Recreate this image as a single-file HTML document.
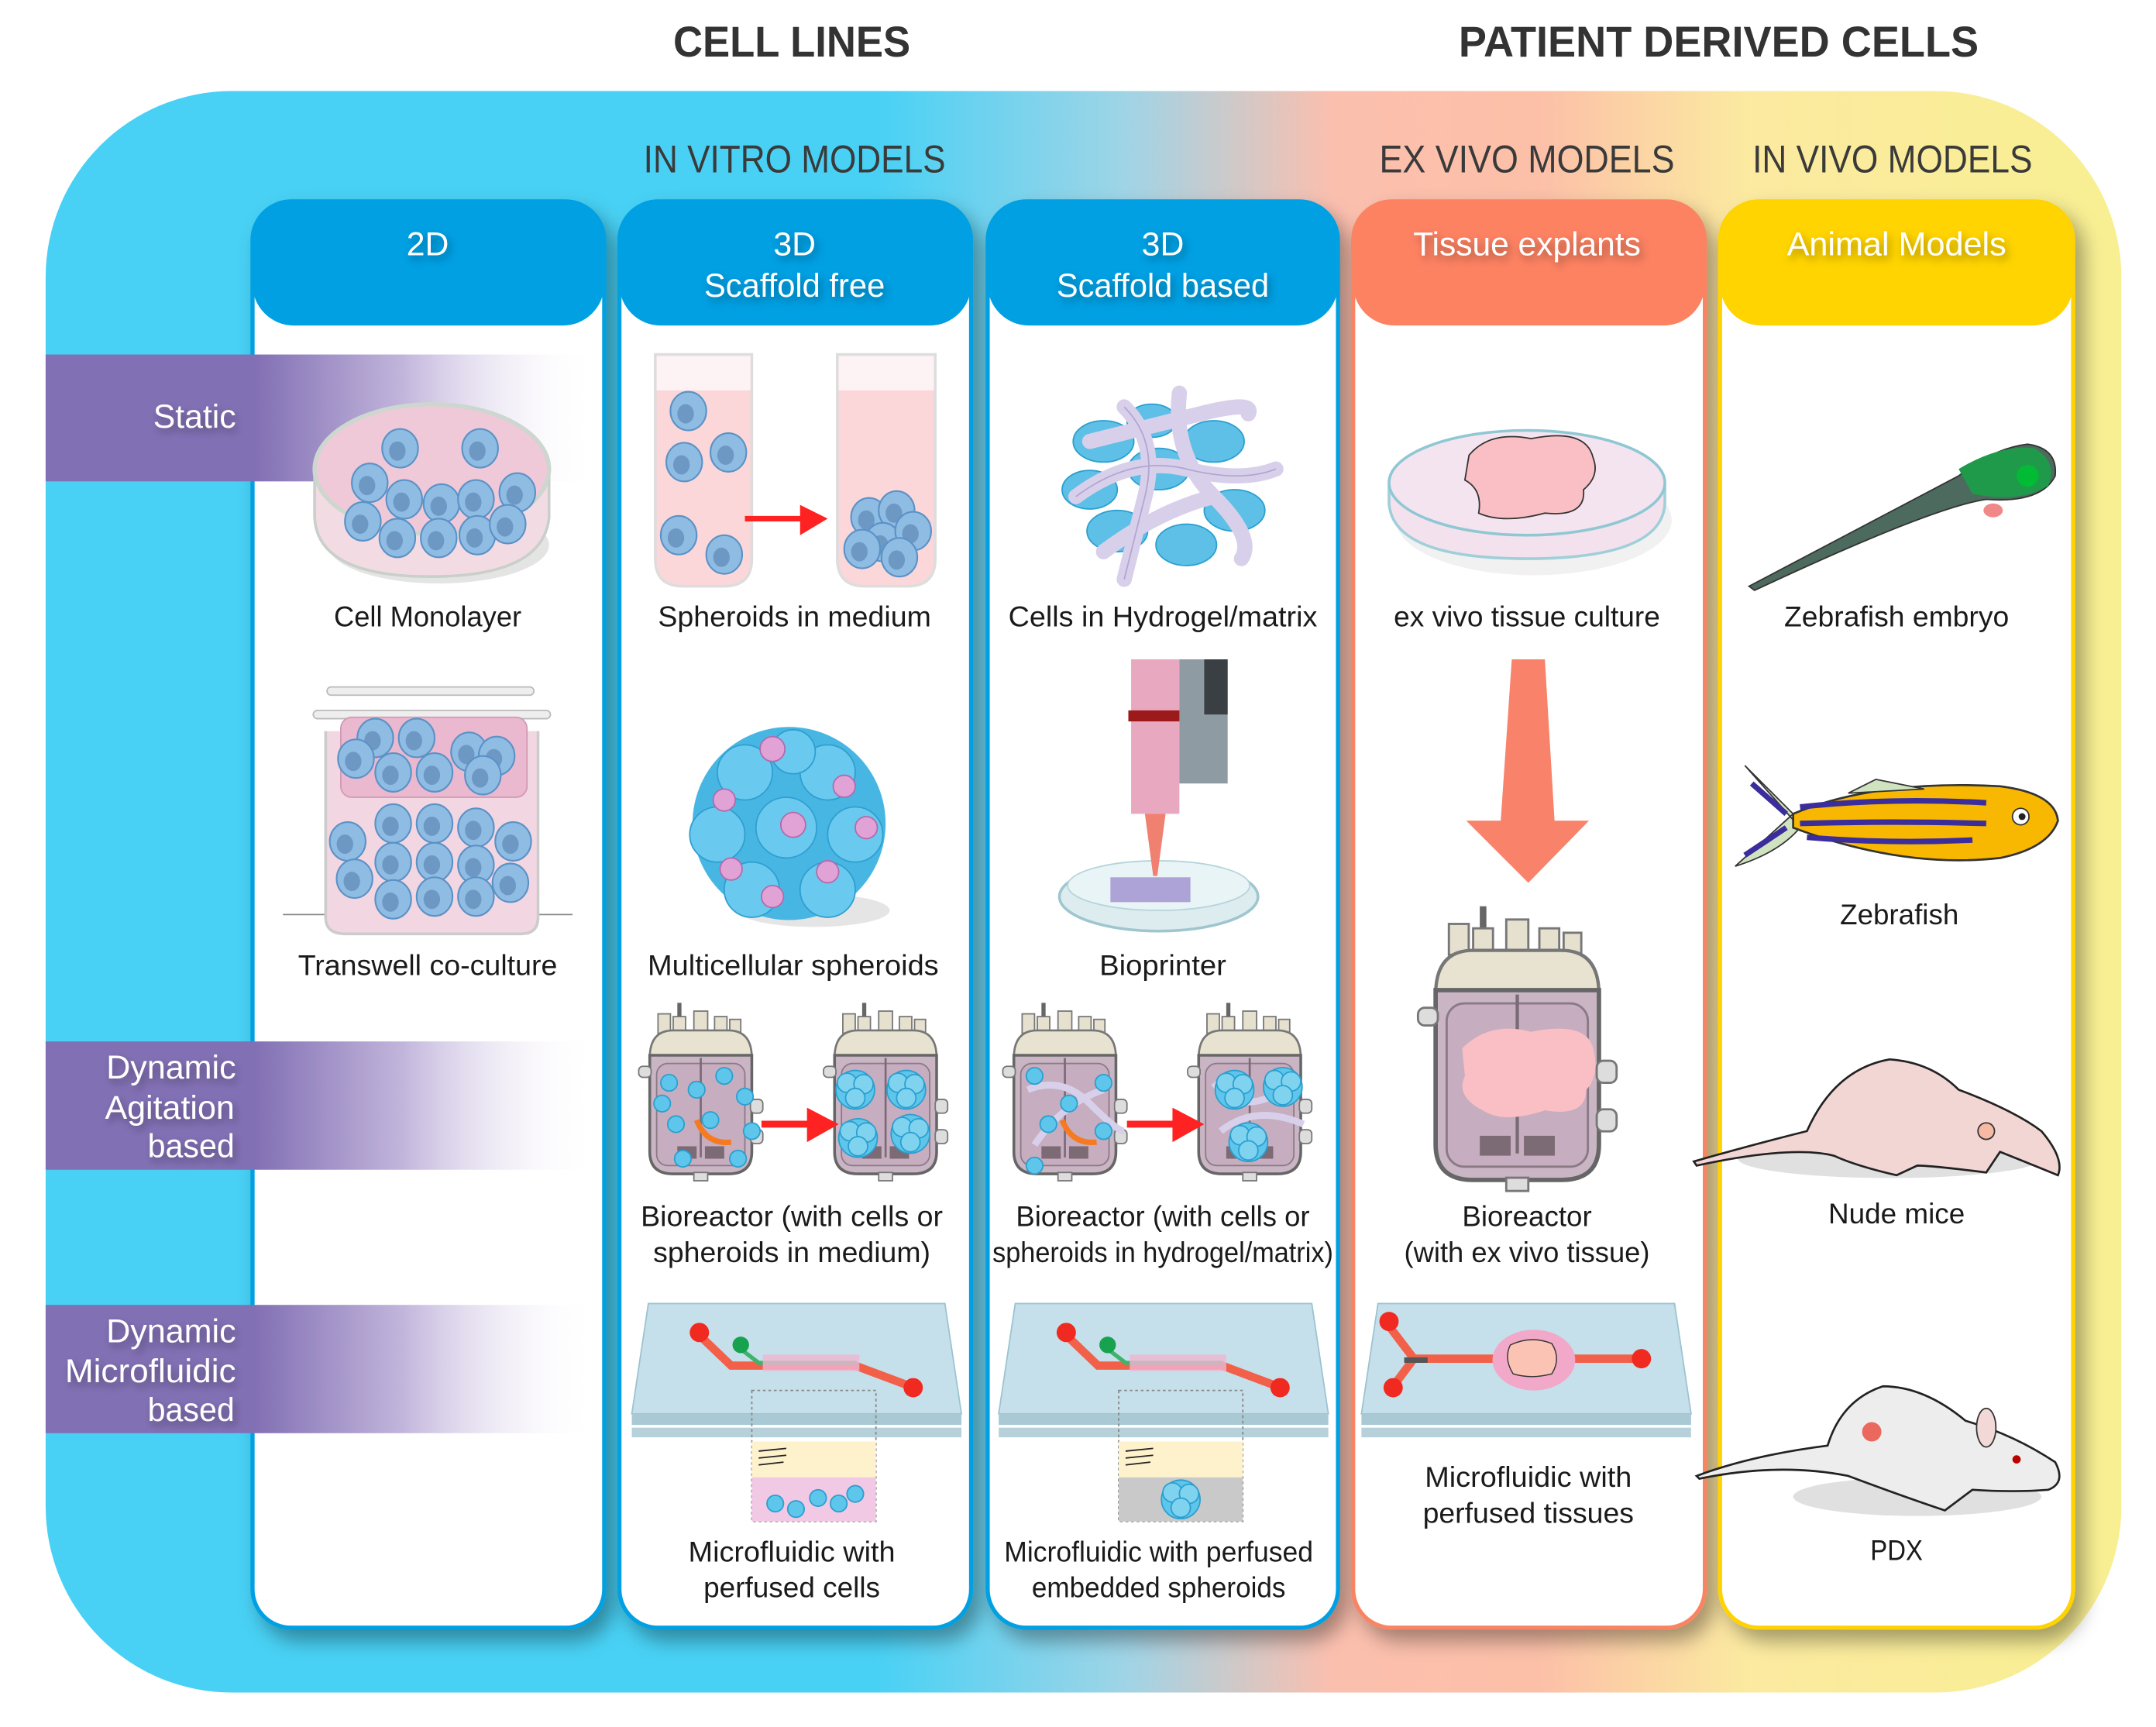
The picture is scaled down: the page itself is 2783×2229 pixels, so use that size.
<!DOCTYPE html>
<html><head><meta charset="utf-8"><style>
html,body{margin:0;padding:0;background:#fff}
svg{display:block}
text{font-family:"Liberation Sans",sans-serif}
.cap{font-size:21px;fill:#1a1a1a;text-anchor:middle}
.hd{font-size:24px;fill:#fff;text-anchor:middle}
.lb{font-size:24px;fill:#fff;text-anchor:end}
.sec{font-size:28px;fill:#3a3a3a;text-anchor:middle}
.top{font-size:31px;fill:#333;text-anchor:middle;font-weight:bold}
</style></head><body>
<svg width="2783" height="2229" viewBox="0 0 1563 1252" xmlns="http://www.w3.org/2000/svg">
<defs>
<linearGradient id="bg" x1="0" x2="1" y1="0" y2="0">
<stop offset="0" stop-color="#48d1f5"/><stop offset="0.4" stop-color="#48d1f5"/>
<stop offset="0.52" stop-color="#9fd4e6"/><stop offset="0.62" stop-color="#fbbfae"/>
<stop offset="0.72" stop-color="#fcc0a8"/><stop offset="0.82" stop-color="#fbeaa0"/>
<stop offset="1" stop-color="#f8ef92"/></linearGradient>
<linearGradient id="band" x1="0" x2="1" y1="0" y2="0">
<stop offset="0" stop-color="#8270b4"/><stop offset="0.38" stop-color="#8270b4"/>
<stop offset="0.65" stop-color="#c3b6dc"/><stop offset="1" stop-color="#ffffff" stop-opacity="0"/></linearGradient>
<filter id="sh" x="-10%" y="-10%" width="130%" height="130%"><feDropShadow dx="6" dy="8" stdDeviation="7" flood-color="#000" flood-opacity="0.35"/></filter>
<filter id="ts"><feDropShadow dx="2" dy="3" stdDeviation="3" flood-color="#000" flood-opacity="0.35"/></filter>
<g id="c"><ellipse cx="0" cy="0" rx="13" ry="14" fill="#8fbce3" stroke="#5b92c6" stroke-width="1.2"/><ellipse cx="-2" cy="2" rx="6" ry="7" fill="#6d98c4"/></g>
<g id="bc"><circle r="6" fill="#5ec6ea" stroke="#2a9fd0"/></g>
<g id="sph"><circle cx="0" cy="0" r="14" fill="#5ec6ea" stroke="#2a9fd0"/><circle cx="-6" cy="-5" r="7" fill="#7fd3ef" stroke="#2a9fd0"/><circle cx="6" cy="-4" r="7" fill="#7fd3ef" stroke="#2a9fd0"/><circle cx="0" cy="6" r="7" fill="#7fd3ef" stroke="#2a9fd0"/></g>
<g id="br">
<rect x="28" y="0" width="3" height="12" fill="#666"/>
<rect x="14" y="8" width="9" height="14" fill="#e6e0cf" stroke="#777"/><rect x="25" y="10" width="9" height="12" fill="#e6e0cf" stroke="#777"/><rect x="40" y="6" width="10" height="16" fill="#e6e0cf" stroke="#777"/><rect x="55" y="10" width="9" height="12" fill="#e6e0cf" stroke="#777"/><rect x="66" y="12" width="8" height="10" fill="#e6e0cf" stroke="#777"/>
<path d="M8 40 Q8 20 25 20 L65 20 Q82 20 82 40 Z" fill="#e8e2d0" stroke="#777" stroke-width="1.5"/>
<path d="M8 38 L82 38 L82 108 Q82 124 65 124 L25 124 Q8 124 8 108 Z" fill="#c9b5c3" stroke="#666" stroke-width="2"/>
<rect x="13" y="44" width="64" height="74" rx="8" fill="#c6adbf" stroke="#8a7a86"/>
<line x1="45" y1="40" x2="45" y2="112" stroke="#7a6a76" stroke-width="1.5"/>
<rect x="28" y="104" width="14" height="9" fill="#7c6a74"/><rect x="48" y="104" width="14" height="9" fill="#7c6a74"/>
<rect x="0" y="46" width="9" height="8" rx="3" fill="#ddd" stroke="#777"/>
<rect x="81" y="70" width="9" height="10" rx="3" fill="#ddd" stroke="#777"/><rect x="81" y="92" width="9" height="10" rx="3" fill="#ddd" stroke="#777"/>
<rect x="40" y="123" width="10" height="6" fill="#ddd" stroke="#777"/>
</g>
<g id="chip">
<path d="M12 0 L227 0 L239 80 L0 80 Z" fill="#c5e0ea" stroke="#9cc3d1"/>
<rect x="0" y="80" width="239" height="8" fill="#a9c9d4"/><rect x="0" y="90" width="239" height="7" fill="#b6d1da"/>
</g>
</defs>

<text class="top" x="574" y="41" textLength="172" lengthAdjust="spacingAndGlyphs">CELL LINES</text>
<text class="top" x="1246" y="41" textLength="377" lengthAdjust="spacingAndGlyphs">PATIENT DERIVED CELLS</text>

<rect x="33" y="66" width="1505" height="1161" rx="135" fill="url(#bg)"/>

<text class="sec" x="576" y="125" textLength="219" lengthAdjust="spacingAndGlyphs">IN VITRO MODELS</text>
<text class="sec" x="1107" y="125" textLength="214" lengthAdjust="spacingAndGlyphs">EX  VIVO MODELS</text>
<text class="sec" x="1372" y="125" textLength="203" lengthAdjust="spacingAndGlyphs">IN VIVO MODELS</text>

<!-- columns -->
<g filter="url(#sh)">
<rect x="183" y="146" width="255" height="1034" rx="28" fill="#fff" stroke="#00a0e3" stroke-width="3"/>
<rect x="449" y="146" width="255" height="1034" rx="28" fill="#fff" stroke="#00a0e3" stroke-width="3"/>
<rect x="716" y="146" width="254" height="1034" rx="28" fill="#fff" stroke="#00a0e3" stroke-width="3"/>
<rect x="981" y="146" width="255" height="1034" rx="28" fill="#fff" stroke="#f98463" stroke-width="3"/>
<rect x="1247" y="146" width="256" height="1034" rx="28" fill="#fff" stroke="#ffd200" stroke-width="3"/>
</g>
<rect x="183" y="145" width="255" height="91" rx="30" fill="#00a0e3"/>
<rect x="449" y="145" width="255" height="91" rx="30" fill="#00a0e3"/>
<rect x="716" y="145" width="254" height="91" rx="30" fill="#00a0e3"/>
<rect x="981" y="145" width="255" height="91" rx="30" fill="#fd8262"/>
<rect x="1247" y="145" width="256" height="91" rx="30" fill="#ffd400"/>
<g filter="url(#ts)">
<text class="hd" x="310" y="185">2D</text>
<text class="hd" x="576" y="185">3D</text>
<text class="hd" x="576" y="215" textLength="131" lengthAdjust="spacingAndGlyphs">Scaffold free</text>
<text class="hd" x="843" y="185">3D</text>
<text class="hd" x="843" y="215" textLength="154" lengthAdjust="spacingAndGlyphs">Scaffold based</text>
<text class="hd" x="1107" y="185" textLength="165" lengthAdjust="spacingAndGlyphs">Tissue explants</text>
<text class="hd" x="1375" y="185" textLength="159" lengthAdjust="spacingAndGlyphs">Animal Models</text>
</g>

<!-- bands -->
<rect x="33" y="257" width="400" height="92" fill="url(#band)"/>
<rect x="33" y="755" width="400" height="93" fill="url(#band)"/>
<rect x="33" y="946" width="400" height="93" fill="url(#band)"/>
<g filter="url(#ts)">
<text class="lb" x="171" y="310" textLength="60" lengthAdjust="spacingAndGlyphs">Static</text>
<text class="lb" x="171" y="782" textLength="94" lengthAdjust="spacingAndGlyphs">Dynamic</text>
<text class="lb" x="170" y="811" textLength="94" lengthAdjust="spacingAndGlyphs">Agitation</text>
<text class="lb" x="170" y="839" textLength="63" lengthAdjust="spacingAndGlyphs">based</text>
<text class="lb" x="171" y="973" textLength="94" lengthAdjust="spacingAndGlyphs">Dynamic</text>
<text class="lb" x="171" y="1002" textLength="124" lengthAdjust="spacingAndGlyphs">Microfluidic</text>
<text class="lb" x="170" y="1030" textLength="63" lengthAdjust="spacingAndGlyphs">based</text>
</g>

<!-- petri dish 2D -->
<ellipse cx="318" cy="395" rx="80" ry="28" fill="#bbb" opacity="0.4"/>
<path d="M228 340 L228 375 Q230 418 312 418 Q394 418 398 375 L398 340 Z" fill="#f3dbe3" stroke="#c9cfc9" stroke-width="2"/>
<ellipse cx="313" cy="340" rx="85" ry="47" fill="#efc9d8" stroke="#cdd6cf" stroke-width="3"/>
<use href="#c" x="268" y="350"/><use href="#c" x="290" y="325"/><use href="#c" x="348" y="325"/><use href="#c" x="375" y="357"/><use href="#c" x="293" y="362"/><use href="#c" x="320" y="365"/><use href="#c" x="345" y="362"/><use href="#c" x="263" y="378"/><use href="#c" x="288" y="390"/><use href="#c" x="318" y="390"/><use href="#c" x="346" y="388"/><use href="#c" x="368" y="380"/>
<text class="cap" x="310" y="454" textLength="136" lengthAdjust="spacingAndGlyphs">Cell Monolayer</text>

<!-- transwell -->
<line x1="205" y1="663" x2="415" y2="663" stroke="#888"/>
<path d="M236 530 L236 665 Q236 677 250 677 L378 677 Q390 677 390 665 L390 530" fill="#f2d6e2" stroke="#ccc" stroke-width="2"/>
<rect x="227" y="515" width="172" height="6" rx="3" fill="#eee" stroke="#bbb"/>
<rect x="237" y="498" width="150" height="6" rx="3" fill="#eee" stroke="#bbb"/>
<rect x="247" y="520" width="135" height="58" rx="8" fill="#eab8cf" stroke="#d19ab3"/>
<use href="#c" x="272" y="535"/><use href="#c" x="302" y="535"/><use href="#c" x="340" y="545"/><use href="#c" x="360" y="548"/><use href="#c" x="285" y="560"/><use href="#c" x="315" y="560"/><use href="#c" x="350" y="562"/><use href="#c" x="258" y="550"/>
<use href="#c" x="252" y="610"/><use href="#c" x="285" y="597"/><use href="#c" x="315" y="597"/><use href="#c" x="345" y="600"/><use href="#c" x="372" y="610"/><use href="#c" x="285" y="625"/><use href="#c" x="315" y="625"/><use href="#c" x="345" y="627"/><use href="#c" x="257" y="637"/><use href="#c" x="285" y="652"/><use href="#c" x="315" y="650"/><use href="#c" x="345" y="650"/><use href="#c" x="370" y="640"/>
<text class="cap" x="310" y="707" textLength="188" lengthAdjust="spacingAndGlyphs">Transwell co-culture</text>

<!-- tubes -->
<path d="M475 257 L475 405 Q475 425 495 425 L525 425 Q545 425 545 405 L545 257 Z" fill="#fbd7d9" stroke="#ddd" stroke-width="2"/>
<path d="M607 257 L607 405 Q607 425 627 425 L658 425 Q678 425 678 405 L678 257 Z" fill="#fbd7d9" stroke="#ddd" stroke-width="2"/>
<rect x="476" y="258" width="68" height="25" fill="#fff" opacity="0.7"/><rect x="608" y="258" width="69" height="25" fill="#fff" opacity="0.7"/>
<use href="#c" x="499" y="298"/><use href="#c" x="496" y="335"/><use href="#c" x="528" y="328"/><use href="#c" x="492" y="388"/><use href="#c" x="525" y="402"/>
<use href="#c" x="630" y="375"/><use href="#c" x="650" y="370"/><use href="#c" x="640" y="393"/><use href="#c" x="662" y="385"/><use href="#c" x="625" y="398"/><use href="#c" x="652" y="404"/>
<line x1="540" y1="376" x2="585" y2="376" stroke="#f22" stroke-width="4"/><path d="M580 366 L600 376 L580 388 Z" fill="#f22"/>
<text class="cap" x="576" y="454" textLength="198" lengthAdjust="spacingAndGlyphs">Spheroids in medium</text>

<!-- multicellular spheroid -->
<ellipse cx="590" cy="660" rx="55" ry="12" fill="#ccc" opacity="0.5"/>
<circle cx="572" cy="597" r="70" fill="#48b6e3"/>
<g fill="#69c9ef" stroke="#2e9fd0"><circle cx="540" cy="560" r="20"/><circle cx="600" cy="560" r="20"/><circle cx="520" cy="605" r="20"/><circle cx="570" cy="600" r="22"/><circle cx="620" cy="605" r="20"/><circle cx="545" cy="645" r="20"/><circle cx="600" cy="645" r="20"/><circle cx="575" cy="545" r="16"/></g>
<g fill="#e1a3d6" stroke="#b36aab"><circle cx="560" cy="543" r="9"/><circle cx="525" cy="580" r="8"/><circle cx="612" cy="570" r="8"/><circle cx="575" cy="598" r="9"/><circle cx="530" cy="630" r="8"/><circle cx="628" cy="600" r="8"/><circle cx="560" cy="650" r="8"/><circle cx="600" cy="632" r="8"/></g>
<text class="cap" x="575" y="707" textLength="211" lengthAdjust="spacingAndGlyphs">Multicellular spheroids</text>

<!-- hydrogel -->
<g fill="#5ec0e6" stroke="#2a9fd0"><ellipse cx="800" cy="320" rx="22" ry="15"/><ellipse cx="880" cy="320" rx="22" ry="15"/><ellipse cx="790" cy="355" rx="20" ry="14"/><ellipse cx="840" cy="340" rx="22" ry="15"/><ellipse cx="895" cy="370" rx="22" ry="15"/><ellipse cx="810" cy="385" rx="22" ry="15"/><ellipse cx="860" cy="395" rx="22" ry="15"/><ellipse cx="835" cy="305" rx="18" ry="12"/></g>
<g fill="none" stroke="#d8d0ea" stroke-width="11" stroke-linecap="round"><path d="M780 360 Q820 330 860 340 T925 340"/><path d="M815 295 Q840 320 830 360 T815 420"/><path d="M855 285 Q850 330 880 360 T900 405"/><path d="M790 320 Q830 310 870 300 T905 300"/><path d="M800 400 Q840 370 880 360"/></g>
<g fill="none" stroke="#b0a6d0" stroke-width="1"><path d="M780 360 Q820 330 860 340 T925 340"/><path d="M815 295 Q840 320 830 360 T815 420"/></g>
<text class="cap" x="843" y="454" textLength="224" lengthAdjust="spacingAndGlyphs">Cells in Hydrogel/matrix</text>

<!-- bioprinter -->
<ellipse cx="840" cy="650" rx="72" ry="25" fill="#dcecef" stroke="#9fc6cf" stroke-width="2"/>
<ellipse cx="840" cy="642" rx="66" ry="18" fill="#e9f4f6" stroke="#b6d4db"/>
<rect x="805" y="636" width="58" height="18" fill="#9d8fcf" opacity="0.8"/>
<rect x="820" y="478" width="35" height="112" fill="#e7a8c0"/>
<rect x="818" y="515" width="40" height="8" fill="#9d1a1a"/>
<rect x="855" y="478" width="35" height="90" fill="#8e9ba2"/><rect x="873" y="478" width="17" height="40" fill="#3a3f44"/>
<path d="M830 590 L845 590 L839 635 L836 635 Z" fill="#f08070"/>
<text class="cap" x="843" y="707" textLength="92" lengthAdjust="spacingAndGlyphs">Bioprinter</text>

<!-- ex vivo dish -->
<ellipse cx="1107" cy="365" rx="100" ry="40" fill="#ddd" opacity="0.4" transform="translate(5 12)"/>
<path d="M1007 352 L1007 365 Q1010 405 1107 405 Q1205 405 1207 365 L1207 352 Z" fill="#f3e2ee" stroke="#9fcfd9" stroke-width="2"/>
<ellipse cx="1107" cy="350" rx="100" ry="38" fill="#f4e4f0" stroke="#8fc7d3" stroke-width="2"/>
<path d="M1065 330 Q1080 312 1110 318 Q1150 310 1155 332 Q1160 345 1148 355 Q1150 375 1120 372 Q1090 380 1072 372 Q1075 355 1062 348 Z" fill="#f9bfc4" stroke="#333" stroke-width="1"/>
<text class="cap" x="1107" y="454" textLength="193" lengthAdjust="spacingAndGlyphs">ex vivo tissue culture</text>

<!-- big arrow -->
<path d="M1096 478 L1120 478 L1127 595 L1152 595 L1108 640 L1063 595 L1088 595 Z" fill="#f9826a"/>

<!-- bioreactors -->
<use href="#br" x="463" y="727"/><use href="#br" x="597" y="727"/>
<use href="#br" x="727" y="727"/><use href="#br" x="861" y="727"/>
<g transform="translate(1028 657) scale(1.6)"><use href="#br"/></g>
<g><use href="#bc" x="485" y="785"/><use href="#bc" x="505" y="790"/><use href="#bc" x="525" y="780"/><use href="#bc" x="540" y="795"/><use href="#bc" x="490" y="815"/><use href="#bc" x="515" y="812"/><use href="#bc" x="545" y="820"/><use href="#bc" x="495" y="840"/><use href="#bc" x="535" y="840"/><use href="#bc" x="480" y="800"/></g>
<use href="#sph" x="620" y="790"/><use href="#sph" x="657" y="790"/><use href="#sph" x="622" y="825"/><use href="#sph" x="660" y="822"/>
<g fill="none" stroke="#d8d0ea" stroke-width="5"><path d="M745 790 Q770 780 790 800 T815 820"/><path d="M750 830 Q770 800 800 790"/><path d="M880 785 Q900 810 930 790"/><path d="M885 820 Q910 800 945 815"/></g>
<use href="#bc" x="750" y="780"/><use href="#bc" x="775" y="800"/><use href="#bc" x="800" y="785"/><use href="#bc" x="760" y="815"/><use href="#bc" x="800" y="820"/><use href="#bc" x="750" y="845"/>
<use href="#sph" x="895" y="790"/><use href="#sph" x="930" y="788"/><use href="#sph" x="905" y="828"/>
<path d="M505 812 Q512 830 530 828" fill="none" stroke="#f57a20" stroke-width="4"/><path d="M770 812 Q777 830 795 828" fill="none" stroke="#f57a20" stroke-width="4"/>
<line x1="552" y1="815" x2="590" y2="815" stroke="#f22" stroke-width="5"/><path d="M585 803 L608 815 L585 828 Z" fill="#f22"/>
<line x1="817" y1="815" x2="855" y2="815" stroke="#f22" stroke-width="5"/><path d="M850 803 L873 815 L850 828 Z" fill="#f22"/>
<path d="M1060 760 Q1080 740 1110 748 Q1150 740 1155 760 Q1160 780 1150 790 Q1150 810 1120 805 Q1090 815 1075 805 Q1055 795 1062 780 Z" fill="#f9bfc4"/>

<text class="cap" x="574" y="889" textLength="219" lengthAdjust="spacingAndGlyphs">Bioreactor (with cells or</text>
<text class="cap" x="574" y="915" textLength="201" lengthAdjust="spacingAndGlyphs">spheroids in medium)</text>
<text class="cap" x="843" y="889" textLength="213" lengthAdjust="spacingAndGlyphs">Bioreactor (with cells or</text>
<text class="cap" x="843" y="915" textLength="247" lengthAdjust="spacingAndGlyphs">spheroids in hydrogel/matrix)</text>
<text class="cap" x="1107" y="889" textLength="94" lengthAdjust="spacingAndGlyphs">Bioreactor</text>
<text class="cap" x="1107" y="915" textLength="178" lengthAdjust="spacingAndGlyphs">(with ex vivo tissue)</text>

<!-- chips -->
<use href="#chip" x="458" y="945"/><use href="#chip" x="724" y="945"/><use href="#chip" x="987" y="945"/>
<g stroke-width="6" fill="none" stroke-linecap="round"><path d="M507 968 L530 990 L620 990 L660 1005" stroke="#f2604a"/><path d="M537 978 L550 988 L620 988" stroke="#3fb36b" stroke-width="3"/>
<path d="M773 968 L796 990 L886 990 L926 1005" stroke="#f2604a"/><path d="M803 978 L816 988 L886 988" stroke="#3fb36b" stroke-width="3"/>
<path d="M1006 960 L1025 985 L1010 1005 M1025 985 L1190 985" stroke="#f2604a"/></g>
<rect x="553" y="982" width="70" height="12" fill="#f0b5d2" opacity="0.8"/><rect x="819" y="982" width="70" height="12" fill="#f0b5d2" opacity="0.8"/>
<g fill="#f02a20"><circle cx="507" cy="966" r="7"/><circle cx="662" cy="1006" r="7"/><circle cx="773" cy="966" r="7"/><circle cx="928" cy="1006" r="7"/><circle cx="1007" cy="958" r="7"/><circle cx="1010" cy="1006" r="7"/><circle cx="1190" cy="985" r="7"/></g>
<circle cx="537" cy="975" r="6" fill="#17a24f"/><circle cx="803" cy="975" r="6" fill="#17a24f"/>
<line x1="1018" y1="986" x2="1035" y2="986" stroke="#555" stroke-width="4"/>
<ellipse cx="1112" cy="986" rx="30" ry="22" fill="#f2a8c8"/>
<path d="M1095 975 Q1110 968 1125 974 Q1132 985 1125 996 Q1110 1000 1097 996 Q1090 985 1095 975 Z" fill="#fbc3b4" stroke="#333" stroke-width="0.8"/>
<g stroke="#888" stroke-dasharray="2 2" fill="none"><rect x="545" y="1008" width="90" height="95"/><rect x="811" y="1008" width="90" height="95"/></g>
<rect x="545" y="1045" width="90" height="26" fill="#fdf2cc"/><rect x="545" y="1071" width="90" height="32" fill="#f2c9e4"/>
<rect x="811" y="1045" width="90" height="26" fill="#fdf2cc"/><rect x="811" y="1071" width="90" height="32" fill="#c9c9c9"/>
<use href="#bc" x="562" y="1090"/><use href="#bc" x="577" y="1094"/><use href="#bc" x="593" y="1086"/><use href="#bc" x="608" y="1090"/><use href="#bc" x="620" y="1083"/>
<use href="#sph" x="856" y="1087"/>
<g stroke="#222" stroke-width="1"><line x1="550" y1="1052" x2="570" y2="1050"/><line x1="550" y1="1057" x2="570" y2="1055"/><line x1="550" y1="1062" x2="568" y2="1060"/><line x1="816" y1="1052" x2="836" y2="1050"/><line x1="816" y1="1057" x2="836" y2="1055"/><line x1="816" y1="1062" x2="834" y2="1060"/></g>
<text class="cap" x="574" y="1132" textLength="150" lengthAdjust="spacingAndGlyphs">Microfluidic with</text>
<text class="cap" x="574" y="1158" textLength="128" lengthAdjust="spacingAndGlyphs">perfused cells</text>
<text class="cap" x="840" y="1132" textLength="224" lengthAdjust="spacingAndGlyphs">Microfluidic with perfused</text>
<text class="cap" x="840" y="1158" textLength="184" lengthAdjust="spacingAndGlyphs">embedded spheroids</text>
<text class="cap" x="1108" y="1078" textLength="150" lengthAdjust="spacingAndGlyphs">Microfluidic with</text>
<text class="cap" x="1108" y="1104" textLength="153" lengthAdjust="spacingAndGlyphs">perfused tissues</text>

<!-- zebrafish embryo -->
<path d="M1268 425 L1420 345 Q1445 325 1470 322 Q1492 325 1490 345 Q1480 365 1440 362 Q1400 368 1272 428 Z" fill="#4d6a5f" stroke="#333"/>
<path d="M1420 340 Q1450 322 1475 325 Q1492 335 1485 352 Q1465 365 1430 358 Z" fill="#1f9a4a"/>
<circle cx="1470" cy="345" r="8" fill="#0b3"/><ellipse cx="1445" cy="370" rx="7" ry="5" fill="#f0888a"/>
<text class="cap" x="1375" y="454" textLength="163" lengthAdjust="spacingAndGlyphs">Zebrafish embryo</text>

<!-- zebrafish -->
<path d="M1265 555 L1300 590 L1258 628 Q1290 618 1305 600 Z" fill="#cfe3c0" stroke="#333"/>
<path d="M1300 590 Q1360 565 1450 570 Q1490 575 1492 595 Q1485 615 1450 622 Q1380 630 1300 600 Z" fill="#f8b700" stroke="#333" stroke-width="1.5"/>
<g stroke="#3b2d9b" stroke-width="4" fill="none"><path d="M1305 585 Q1370 578 1440 582"/><path d="M1305 597 Q1370 595 1440 597"/><path d="M1310 607 Q1370 612 1430 609"/><path d="M1270 568 L1295 590"/><path d="M1265 620 L1295 600"/></g>
<path d="M1340 575 L1360 565 L1395 572 Z" fill="#cfe3c0" stroke="#333"/>
<circle cx="1465" cy="592" r="6" fill="#fff" stroke="#333"/><circle cx="1466" cy="592" r="2.5" fill="#222"/>
<text class="cap" x="1377" y="670" textLength="86" lengthAdjust="spacingAndGlyphs">Zebrafish</text>

<!-- nude mouse -->
<ellipse cx="1370" cy="840" rx="110" ry="14" fill="#ccc" opacity="0.6"/>
<path d="M1228 842 Q1270 830 1310 820 Q1330 775 1370 768 Q1400 770 1420 790 Q1460 805 1480 820 Q1497 840 1492 852 Q1475 845 1450 835 L1440 850 Q1400 845 1390 845 L1375 852 Q1345 845 1330 838 Q1300 830 1230 845 Z" fill="#f2d6d4" stroke="#222" stroke-width="1.5"/>
<circle cx="1440" cy="820" r="6" fill="#f6b9a4" stroke="#333"/>
<text class="cap" x="1375" y="887" textLength="99" lengthAdjust="spacingAndGlyphs">Nude mice</text>

<!-- PDX mouse -->
<ellipse cx="1390" cy="1085" rx="90" ry="14" fill="#ccc" opacity="0.6"/>
<path d="M1230 1070 Q1270 1055 1325 1048 Q1335 1015 1365 1005 Q1395 1005 1425 1030 Q1460 1040 1490 1060 Q1498 1075 1485 1080 Q1460 1082 1430 1080 L1410 1095 Q1380 1085 1340 1070 Q1290 1060 1232 1072 Z" fill="#ededed" stroke="#222" stroke-width="1.5"/>
<ellipse cx="1440" cy="1035" rx="7" ry="14" fill="#f3d8d8" stroke="#333"/>
<circle cx="1357" cy="1038" r="7" fill="#e8463a" opacity="0.8"/><circle cx="1462" cy="1058" r="3" fill="#b00"/>
<text class="cap" x="1375" y="1131" textLength="38" lengthAdjust="spacingAndGlyphs">PDX</text>
</svg>
</body></html>
